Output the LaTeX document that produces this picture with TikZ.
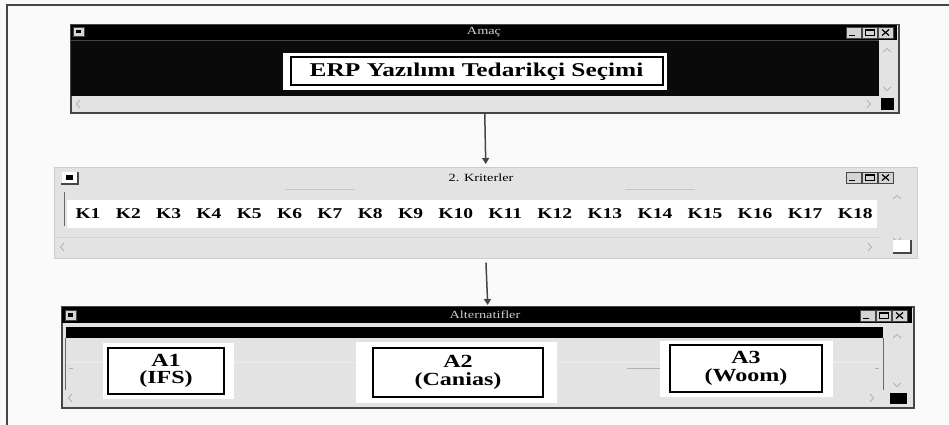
\documentclass[tikz,border=0pt]{standalone}
\usepackage{fontspec}
\setmainfont{Liberation Serif}[FakeStretch=1.3]
\usetikzlibrary{positioning,arrows.meta}
\definecolor{wingray}{RGB}{227,227,227}
\definecolor{frameedge}{RGB}{70,70,70}
\definecolor{titlegray}{RGB}{205,205,205}
\definecolor{bggray}{RGB}{250,250,250}
\definecolor{panelblack}{RGB}{10,10,10}
\definecolor{chevron}{RGB}{175,175,175}
\definecolor{lightbtn}{RGB}{212,212,212}
\tikzset{
  win/.style={draw=frameedge, line width=1.5pt, fill=wingray, inner sep=0pt},
  win-flat/.style={draw=wingray!90!black, line width=0.6pt, fill=wingray, inner sep=0pt},
  win-title/.style={font=\fontsize{11}{12}\selectfont, inner sep=0pt},
  goal-box/.style={draw=black, line width=2pt, fill=white, minimum width=372pt, minimum height=28pt,
    font=\bfseries\fontsize{19.5}{22}\selectfont},
  crit/.style={font=\bfseries\fontsize{15}{16}\selectfont, inner sep=0pt},
  alt-box/.style={draw=black, line width=1.2pt, fill=white, align=center,
    font=\bfseries\fontsize{18.5}{17.5}\selectfont},
  chev/.style={draw=chevron, line width=0.8pt},
  flow/.style={draw=frameedge, line width=1.5pt, -{Triangle[length=6pt,width=7pt]}},
  btn/.style={draw=frameedge, fill=lightbtn, line width=0.8pt},
  chev-up/.pic={\draw[chev] (-4,2) -- (0,-1.5) -- (4,2);},
  chev-down/.pic={\draw[chev] (-4,-2) -- (0,1.5) -- (4,-2);},
  chev-left/.pic={\draw[chev] (2,-4) -- (-1.5,0) -- (2,4);},
  chev-right/.pic={\draw[chev] (-2,-4) -- (1.5,0) -- (-2,4);}
}
% min / max / close buttons, #1 = top left corner
\newcommand{\winbuttons}[1]{
  \begin{scope}[shift={#1}]
    \foreach \bx in {0,16,32}
      \draw[btn] (\bx,0) rectangle ++(15,11);
    \draw[line width=1.6pt] (3,8.5) -- (9,8.5);
    \draw[line width=0.8pt] (19,2.5) rectangle (28,8.5);
    \draw[line width=1.6pt] (19,3) -- (28,3);
    \draw[line width=1.2pt] (36,2.5) -- (43,8.5) (36,8.5) -- (43,2.5);
  \end{scope}
}

\begin{document}
\begin{tikzpicture}[x=1pt, y=-1pt]
  \useasboundingbox (0,0) rectangle (949,425);
  \fill[bggray] (0,0) rectangle (949,425);
  \draw[frameedge, line width=1.2pt] (7,425) -- (7,5) -- (949,5);

  % Amac window
  \node[win, anchor=north west, minimum width=828pt, minimum height=88pt] (amac) at (70,24) {};
  \fill[black] (71,25) rectangle (897,40);
  \node[win-title, text=titlegray] (amac-title) at (484,32.5) {Amaç};
  \draw[btn] (73,27) rectangle (84,36);
  \fill[black] (76,30) rectangle (81,33);
  \winbuttons{(846,27)}
  \fill[panelblack] (71,41) rectangle (879,96);
  \draw[frameedge, line width=1pt] (71,41) -- (879,41);
  \pic at (887,50) {chev-up};
  \pic at (887,89) {chev-down};
  \pic at (78,104) {chev-left};
  \pic at (869,104) {chev-right};
  \fill[black] (881,98) rectangle (894,110);
  \fill[white] (283,53) rectangle (667,90);
  \node[goal-box] (goal) at (476.5,71.5) {ERP Yazılımı Tedarikçi Seçimi};

  % Kriterler window
  \node[win-flat, anchor=north west, minimum width=863pt, minimum height=91pt] (krit) at (54,167) {};
  \node[win-title] (krit-title) at (481,178) {2. Kriterler};
  \fill[white] (62,172) rectangle (77,183);
  \fill[black] (66,175) rectangle (73,180);
  \draw[frameedge, line width=1.2pt] (61,184) -- (78,184) -- (78,172);
  \winbuttons{(846,172)}
  \draw[gray!45, line width=0.8pt] (285,189) -- (355,189) (625,189) -- (695,189);
  \draw[frameedge!80, line width=0.8pt] (64,192) -- (64,226);
  \fill[white] (67,200) rectangle (877,228);
  \node[crit] (k1) at (88,213.5) {K1};
  \foreach \i [remember=\i as \prev (initially 1)] in {2,...,18}
    \node[crit, right=15pt of k\prev] (k\i) {K\i};
  \draw[gray!35, line width=0.8pt] (56,237) -- (880,237);
  \pic at (897,197) {chev-up};
  \pic at (897,240) {chev-down};
  \pic at (62,247) {chev-left};
  \pic at (870,247) {chev-right};
  \fill[white] (893,240) rectangle (910,253);
  \draw[frameedge, line width=1.2pt] (893,253) -- (911,253) -- (911,240);

  % Alternatifler window
  \node[win, anchor=north west, minimum width=852pt, minimum height=101pt] (alt) at (61,306) {};
  \fill[black] (62,307) rectangle (912,323);
  \node[win-title, text=titlegray] (alt-title) at (485,315) {Alternatifler};
  \draw[btn] (65,310) rectangle (76,320);
  \fill[black] (68,313) rectangle (73,317);
  \winbuttons{(860,310)}
  \fill[black] (66,327) rectangle (883,338);
  \draw[frameedge!80, line width=0.8pt] (65,338) -- (65,390) (883,338) -- (883,390);
  \draw[white!85!gray, line width=1pt] (66,362) -- (882,362);
  \draw[gray!60, line width=0.8pt] (69,368) -- (73,368) (875,368) -- (879,368) (627,368) -- (660,368);
  \pic at (897,336) {chev-up};
  \pic at (897,385) {chev-down};
  \pic at (70,398) {chev-left};
  \pic at (872,398) {chev-right};
  \fill[black] (890,393) rectangle (907,404);

  % alternative boxes
  \fill[white] (103,343) rectangle (234,399);
  \fill[white] (356,342) rectangle (557,403);
  \fill[white] (660,341) rectangle (833,397);
  \node[alt-box, minimum width=116pt, minimum height=46pt] (a1) at (166,371) {A1\\(IFS)};
  \node[alt-box, minimum width=170pt, minimum height=49pt] (a2) at (458,372.5) {A2\\(Canias)};
  \node[alt-box, minimum width=152pt, minimum height=47pt] (a3) at (746,368.5) {A3\\(Woom)};

  % flow between levels
  \draw[flow, shorten >=3pt] (amac.south) -- (krit.north);
  \draw[flow, shorten <=4pt, shorten >=1pt] (krit.south) -- (alt.north);
\end{tikzpicture}
\end{document}
